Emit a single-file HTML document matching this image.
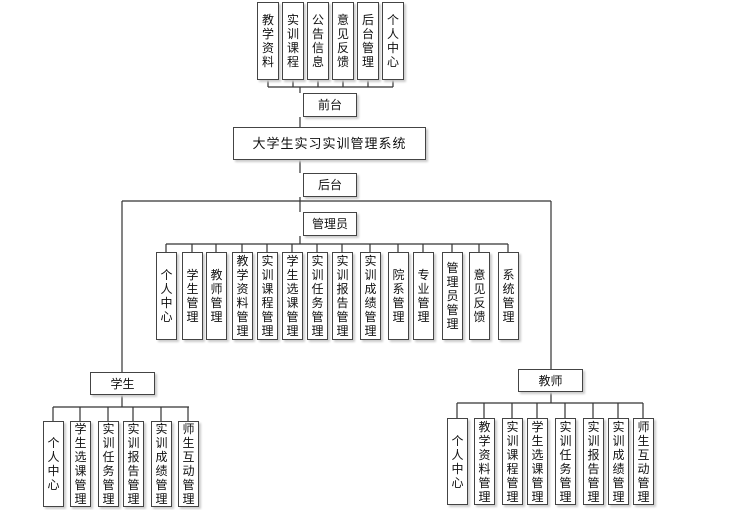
<!DOCTYPE html>
<html><head><meta charset="utf-8"><style>
html,body{margin:0;padding:0;background:#fff;width:740px;height:510px;overflow:hidden}
.b{position:absolute;box-sizing:border-box;border:1.5px solid #444;background:#fff;box-shadow:2px 2px 2px #ccc;display:flex;align-items:center;justify-content:center;text-align:center;font-family:"Liberation Sans","Noto Sans CJK SC",sans-serif;font-size:12px;color:#111;line-height:14px}
.v{padding:0 1px}
svg{position:absolute;left:0;top:0}
</style></head><body>
<svg width="740" height="510"><g stroke="#333" stroke-width="1.2" fill="none">
<path d="M268 80V87M293 80V87M318 80V87M343 80V87M368 80V87M393 80V87M268 87H393M300 87V93"/>
<path d="M300 117V127M300 160V173M300 197V212M122 201H551M122 201V372M551 201V369"/>
<path d="M300 236V244M166 244H508M166 244V252M192 244V252M216 244V252M242 244V252M267 244V252M292 244V252M317 244V252M342 244V252M370 244V252M398 244V252M423 244V252M452 244V252M479 244V252M508 244V252"/>
<path d="M122 395V407M53 407H189M53 407V421M80 407V421M108 407V421M133 407V421M161 407V421M188 407V421"/>
<path d="M551 392V403M457 403H643M457 403V418M484 403V418M512 403V418M537 403V418M565 403V418M593 403V418M618 403V418M643 403V418"/>
</g></svg>

<div class="b v" style="left:257px;top:2px;width:22px;height:78px">教<br>学<br>资<br>料</div>
<div class="b v" style="left:282px;top:2px;width:22px;height:78px">实<br>训<br>课<br>程</div>
<div class="b v" style="left:307px;top:2px;width:22px;height:78px">公<br>告<br>信<br>息</div>
<div class="b v" style="left:332px;top:2px;width:22px;height:78px">意<br>见<br>反<br>馈</div>
<div class="b v" style="left:357px;top:2px;width:22px;height:78px">后<br>台<br>管<br>理</div>
<div class="b v" style="left:382px;top:2px;width:22px;height:78px">个<br>人<br>中<br>心</div>

<div class="b" style="left:303px;top:93px;width:54px;height:24px">前台</div>
<div class="b" style="left:233px;top:127px;width:193px;height:33px;font-size:13px;letter-spacing:1px">大学生实习实训管理系统</div>
<div class="b" style="left:303px;top:173px;width:54px;height:24px">后台</div>
<div class="b" style="left:303px;top:212px;width:54px;height:24px">管理员</div>

<div class="b v" style="left:156px;top:252px;width:21px;height:88px">个<br>人<br>中<br>心</div>
<div class="b v" style="left:182px;top:252px;width:21px;height:88px">学<br>生<br>管<br>理</div>
<div class="b v" style="left:206px;top:252px;width:21px;height:88px">教<br>师<br>管<br>理</div>
<div class="b v" style="left:232px;top:252px;width:21px;height:88px">教<br>学<br>资<br>料<br>管<br>理</div>
<div class="b v" style="left:257px;top:252px;width:21px;height:88px">实<br>训<br>课<br>程<br>管<br>理</div>
<div class="b v" style="left:282px;top:252px;width:21px;height:88px">学<br>生<br>选<br>课<br>管<br>理</div>
<div class="b v" style="left:307px;top:252px;width:21px;height:88px">实<br>训<br>任<br>务<br>管<br>理</div>
<div class="b v" style="left:332px;top:252px;width:21px;height:88px">实<br>训<br>报<br>告<br>管<br>理</div>
<div class="b v" style="left:360px;top:252px;width:21px;height:88px">实<br>训<br>成<br>绩<br>管<br>理</div>
<div class="b v" style="left:388px;top:252px;width:21px;height:88px">院<br>系<br>管<br>理</div>
<div class="b v" style="left:413px;top:252px;width:21px;height:88px">专<br>业<br>管<br>理</div>
<div class="b v" style="left:442px;top:252px;width:21px;height:88px">管<br>理<br>员<br>管<br>理</div>
<div class="b v" style="left:469px;top:252px;width:21px;height:88px">意<br>见<br>反<br>馈</div>
<div class="b v" style="left:498px;top:252px;width:21px;height:88px">系<br>统<br>管<br>理</div>

<div class="b" style="left:90px;top:372px;width:65px;height:23px">学生</div>
<div class="b v" style="left:43px;top:421px;width:21px;height:86px">个<br>人<br>中<br>心</div>
<div class="b v" style="left:70px;top:421px;width:21px;height:86px">学<br>生<br>选<br>课<br>管<br>理</div>
<div class="b v" style="left:98px;top:421px;width:21px;height:86px">实<br>训<br>任<br>务<br>管<br>理</div>
<div class="b v" style="left:123px;top:421px;width:21px;height:86px">实<br>训<br>报<br>告<br>管<br>理</div>
<div class="b v" style="left:151px;top:421px;width:21px;height:86px">实<br>训<br>成<br>绩<br>管<br>理</div>
<div class="b v" style="left:178px;top:421px;width:21px;height:86px">师<br>生<br>互<br>动<br>管<br>理</div>

<div class="b" style="left:518px;top:369px;width:65px;height:23px">教师</div>
<div class="b v" style="left:447px;top:418px;width:21px;height:87px">个<br>人<br>中<br>心</div>
<div class="b v" style="left:474px;top:418px;width:21px;height:87px">教<br>学<br>资<br>料<br>管<br>理</div>
<div class="b v" style="left:502px;top:418px;width:21px;height:87px">实<br>训<br>课<br>程<br>管<br>理</div>
<div class="b v" style="left:527px;top:418px;width:21px;height:87px">学<br>生<br>选<br>课<br>管<br>理</div>
<div class="b v" style="left:555px;top:418px;width:21px;height:87px">实<br>训<br>任<br>务<br>管<br>理</div>
<div class="b v" style="left:583px;top:418px;width:21px;height:87px">实<br>训<br>报<br>告<br>管<br>理</div>
<div class="b v" style="left:608px;top:418px;width:21px;height:87px">实<br>训<br>成<br>绩<br>管<br>理</div>
<div class="b v" style="left:633px;top:418px;width:21px;height:87px">师<br>生<br>互<br>动<br>管<br>理</div>
</body></html>
